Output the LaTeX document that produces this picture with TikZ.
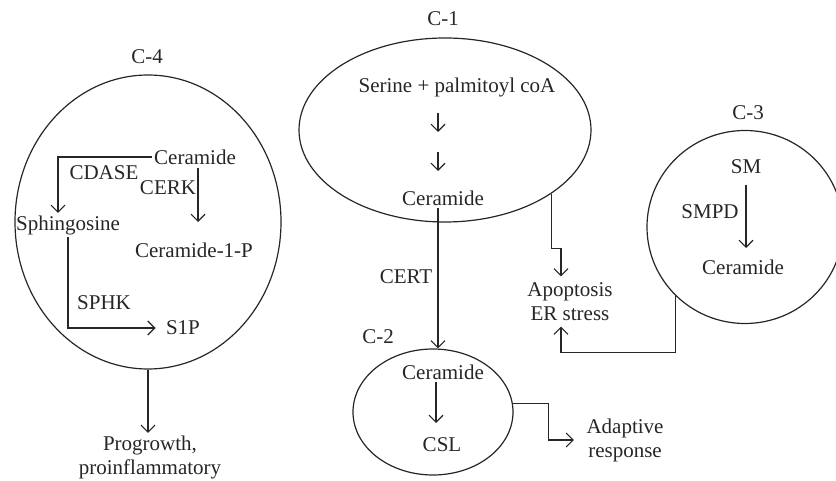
\documentclass[tikz,border=0pt]{standalone}
\usepackage{fontspec}
\setmainfont{Liberation Serif}
\usetikzlibrary{shapes.geometric,arrows.meta,calc}
\begin{document}
\begin{tikzpicture}[x=1pt, y=-1pt, >={Straight Barb[length=7pt,width=14pt]}, line width=1.1pt,
    font=\fontsize{21}{24}\selectfont,
    % Stil für die Kompartimente
        comp/.style={ellipse, draw=black!85, line width=1.2pt, inner sep=0pt},
    % Stil für die Texte
        txt/.style={inner sep=2pt, text=black!85, align=center},
    % Stil für die Pfeile
        flow/.style={->, draw=black!85}]

        \useasboundingbox (0,0) rectangle (836,481);

        % Kompartimente
        \node[comp, minimum width=266pt, minimum height=294pt] (c4) at (148,222) {};
        \node[comp, minimum width=292pt, minimum height=184pt] (c1) at (445,130) {};
        \node[comp, minimum width=160pt, minimum height=126pt] (c2) at (433,412) {};
        \node[comp, minimum width=196pt, minimum height=193pt] (c3) at (745,227) {};

        % Beschriftungen der Kompartimente
        \node[txt] (l4) at (147,57) {C-4};
        \node[txt] (l1) at (443,19) {C-1};
        \node[txt] (l2) at (378,337) {C-2};
        \node[txt] (l3) at (748,113) {C-3};

        % Knoten in C-4
        \node[txt] (cer4) at (195,157) {Ceramide};
        \node[txt] (sph) at (68,225) {Sphingosine};
        \node[txt] (c1p) at (194,250) {Ceramide-1-P};
        \node[txt] (s1p) at (183,328) {S1P};
        \node[txt] (cdase) at (104,173) {CDASE};
        \node[txt] (cerk) at (168,188) {CERK};
        \node[txt] (sphk) at (104,303) {SPHK};
        \node[txt] (prog) at (150,457) {Progrowth,\\proinflammatory};

        % Knoten in C-1 und C-2
        \node[txt] (serine) at (457,87) {Serine + palmitoyl coA};
        \node[txt] (cer1) at (443,198) {Ceramide};
        \node[txt] (cert) at (406,277) {CERT};
        \node[txt] (cer2) at (443,372) {Ceramide};
        \node[txt] (csl) at (442,445) {CSL};
        \node[txt] (adapt) at (625,440) {Adaptive\\response};
        \node[txt] (apop) at (570,302) {Apoptosis\\ER stress};

        % Knoten in C-3
        \node[txt] (sm) at (746,167) {SM};
        \node[txt] (smpd) at (710,212) {SMPD};
        \node[txt] (cer3) at (743,267) {Ceramide};

        % Zwischenpunkte der Syntheseschritte
        \coordinate (p1) at (438,113);
        \coordinate (p2) at (438,132);
        \coordinate (p3) at (438,152);
        \coordinate (p4) at (438,171);

        % Kanten in C-4
        \draw[flow] (cer4.west) -| ([xshift=-10pt]sph.north);
        \draw[flow] (198,168) -- (198,222);
        \draw[flow] (sph.south) |- ([xshift=-8pt]s1p.west);
        \draw[flow] (c4.south) -- (c4.south |- prog.north);

        % Kanten in C-1, C-2 und C-3
        \draw[flow] (p1) -- (p2);
        \draw[flow] (p3) -- (p4);
        \draw[flow] (cer1.south -| p1) -- (p1 |- c2.north);
        \draw[flow] (cer2.south -| 436,0) -- (436,423);
        \draw[flow] (c2.6) -| ($(c2.6)!0.5!(adapt.west)$) |- ([xshift=-10pt]adapt.west);
        \draw[flow] (c1.-31) -- ++(0,55) -| ([xshift=-9pt,yshift=4pt]apop.north);
        \draw[flow] (c3.225) -- ++(0,56) -| ([xshift=-9pt,yshift=-3pt]apop.south);
        \draw[flow] (746,185) -- (746,248);
    \end{tikzpicture}
\end{document}
